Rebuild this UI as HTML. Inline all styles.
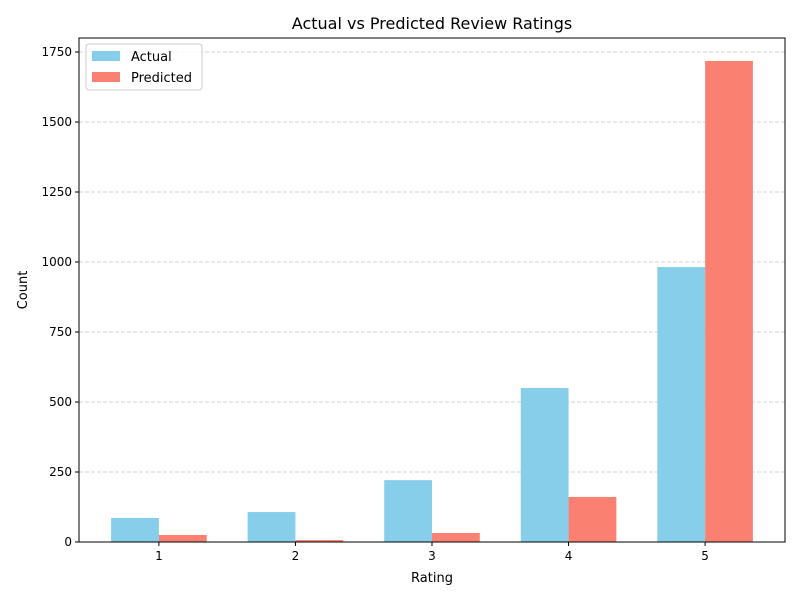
<!DOCTYPE html>
<html><head><meta charset="utf-8"><style>
body{margin:0;background:#fff;font-family:"Liberation Sans","DejaVu Sans",sans-serif;}
svg text{font-family:"DejaVu Sans","Liberation Sans",sans-serif;}
</style></head><body>
<svg id="chart" width="800" height="600">
<rect width="800" height="600" fill="#fff"/>
<g id="grid"></g><g id="bars"></g><g id="axes"></g>
<text x="432" y="29" text-anchor="middle" font-size="16" fill="#000">Actual vs Predicted Review Ratings</text>
<text x="432" y="582" text-anchor="middle" font-size="13">Rating</text>
<text x="27" y="290" text-anchor="middle" font-size="13" transform="rotate(-90 27 290)">Count</text>
<g>
<rect x="86" y="44" width="116" height="46" fill="#fff" fill-opacity="0.8" stroke="#ccc" rx="3"/>
<g><rect x="92" y="51" width="28" height="10" fill="#87CEEB"/><text x="131" y="61" font-size="13">Actual</text></g>
<g><rect x="92" y="72" width="28" height="10" fill="#FA8072"/><text x="131" y="82" font-size="13">Predicted</text></g>
</g>
</svg>
<script>
const categories=["1","2","3","4","5"];
const actual=[86,107,221,550,982];
const predicted=[25,7,32,161,1718];
const yTicks=[0,250,500,750,1000,1250,1500,1750];
const L=79,R=785,T=38,B=542;
const xlo=-0.585,xhi=4.585,ymax=1800;
const xs=v=>L+(v-xlo)/(xhi-xlo)*(R-L);
const ys=v=>B-v/ymax*(B-T);
const NS="http://www.w3.org/2000/svg";
const g=document.getElementById('grid'),b=document.getElementById('bars'),a=document.getElementById('axes');
function mk(p,tag,attrs){const e=document.createElementNS(NS,tag);for(const k in attrs)e.setAttribute(k,attrs[k]);p.appendChild(e);return e;}
yTicks.forEach(t=>{const y=ys(t);
const gl=mk(g,'line',{x1:L,x2:R,y1:y,y2:y,stroke:'#c8c8c8','stroke-dasharray':'4,2','stroke-width':0.8});


mk(a,'line',{x1:L-4,x2:L,y1:y,y2:y,stroke:'#000'});
const tx=mk(a,'text',{x:L-7,y:y+4,'text-anchor':'end','font-size':12});tx.textContent=t;


});
const w=0.35;
categories.forEach((c,i)=>{
const r1=mk(b,'rect',{x:xs(i-w),y:ys(actual[i]),width:xs(w)-xs(0),height:B-ys(actual[i]),fill:'#87CEEB'});


const r2=mk(b,'rect',{x:xs(i),y:ys(predicted[i]),width:xs(w)-xs(0),height:B-ys(predicted[i]),fill:'#FA8072'});


const x=xs(i);
mk(a,'line',{x1:x,x2:x,y1:B,y2:B+4,stroke:'#000'});
const tx=mk(a,'text',{x:x,y:B+18,'text-anchor':'middle','font-size':12});tx.textContent=c;


});
const fr=mk(a,'rect',{x:L,y:T,width:R-L,height:B-T,fill:'none',stroke:'#000','stroke-width':1});


</script>
</body></html>
